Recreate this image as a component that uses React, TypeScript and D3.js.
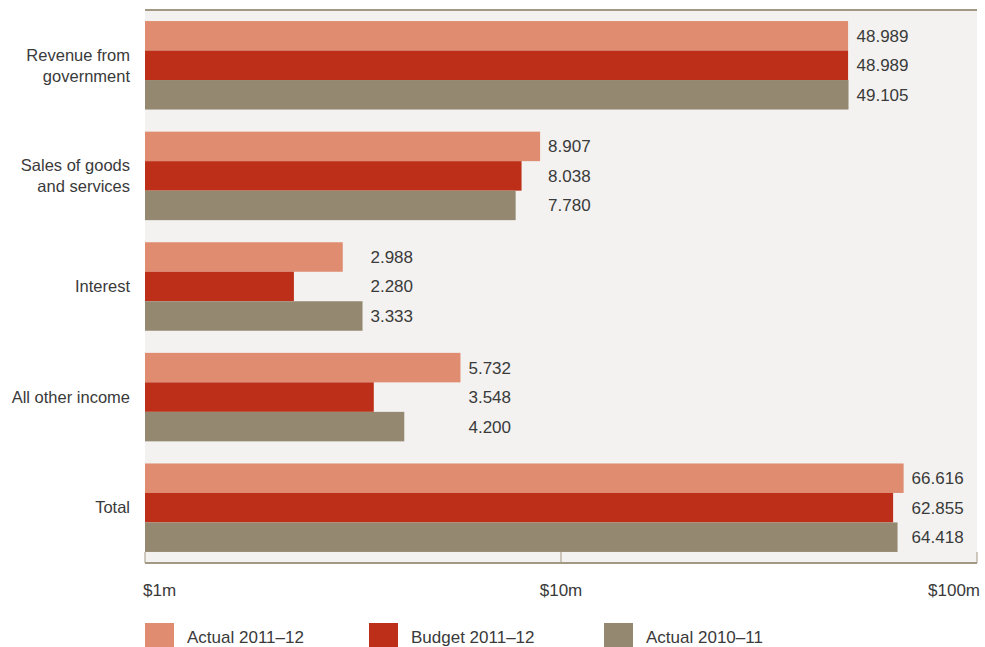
import React from "react";
import * as d3 from "d3";

const categories = ["Revenue from government", "Sales of goods and services", "Interest", "All other income", "Total"];
const categoryLines = [["Revenue from", "government"], ["Sales of goods", "and services"], ["Interest"], ["All other income"], ["Total"]];
const seriesNames = ["Actual 2011–12", "Budget 2011–12", "Actual 2010–11"];
const actual2012 = [48.989, 8.907, 2.988, 5.732, 66.616];
const budget2012 = [48.989, 8.038, 2.28, 3.548, 62.855];
const actual2011 = [49.105, 7.78, 3.333, 4.2, 64.418];
const seriesValues = [actual2012, budget2012, actual2011];
const tickValues = [1, 10, 100];
const tickLabels = ["$1m", "$10m", "$100m"];

const colors = ["#df8c70", "#bd2f19", "#948871"];
const FONT = "'Liberation Sans', Arial, Helvetica, sans-serif";

export default function App() {
  const W = 985, H = 647;
  const left = 145, right = 977, top = 10, bottom = 563;
  const x = d3.scaleLog().domain([1, 100]).range([left, right]);
  const y = d3.scaleBand<string>().domain(categories).range([top, bottom]).paddingInner(0.2).paddingOuter(0.1);
  const ySub = d3.scaleBand<string>().domain(seriesNames).range([0, y.bandwidth()]);
  const legendX = [145, 369, 604];
  const axisColor = "#a39883";
  const textColor = "#3a3a3a";

  return (
    <svg width={W} height={H} style={{ position: "absolute", left: 0, top: 0 }} fontFamily={FONT}>
      <rect x={left} y={top} width={right - left} height={bottom - top} fill="#f3f2f0" />
      <line x1={left} x2={right} y1={top} y2={top} stroke={axisColor} strokeWidth={2} />
      <line x1={left} x2={right} y1={bottom} y2={bottom} stroke={axisColor} strokeWidth={2} />
      {tickValues.map((t, i) => (
        <line key={"t" + i} x1={x(t)} x2={x(t)} y1={bottom - 11} y2={bottom} stroke={axisColor} strokeWidth={1} />
      ))}
      {tickValues.map((t, i) => (
        <text
          key={"tl" + i}
          x={i === 0 ? x(t) - 2 : i === tickValues.length - 1 ? x(t) + 3 : x(t)}
          y={590}
          dy="0.35em"
          fontSize={17}
          fill={textColor}
          textAnchor={i === 0 ? "start" : i === tickValues.length - 1 ? "end" : "middle"}
        >
          {tickLabels[i]}
        </text>
      ))}
      {categories.map((c, ci) => {
        const gy = y(c)!;
        const maxEnd = d3.max(seriesValues, (s) => x(s[ci]))!;
        return (
          <g key={c}>
            {seriesValues.map((s, si) => (
              <rect
                key={si}
                x={left}
                y={gy + ySub(seriesNames[si])!}
                width={x(s[ci]) - left}
                height={ySub.bandwidth()}
                fill={colors[si]}
              />
            ))}
            {seriesValues.map((s, si) => (
              <text
                key={"v" + si}
                x={maxEnd + 8}
                y={gy + ySub(seriesNames[si])! + ySub.bandwidth() / 2}
                dy="0.35em"
                fontSize={17}
                fill={textColor}
              >
                {s[ci].toFixed(3)}
              </text>
            ))}
            {categoryLines[ci].map((line, li) => (
              <text
                key={"c" + li}
                x={130}
                y={gy + y.bandwidth() / 2 + (li - (categoryLines[ci].length - 1) / 2) * 21}
                dy="0.35em"
                fontSize={16.5}
                fill={textColor}
                textAnchor="end"
              >
                {line}
              </text>
            ))}
          </g>
        );
      })}
      {seriesNames.map((n, i) => (
        <g key={n}>
          <rect x={legendX[i]} y={623} width={29} height={25} fill={colors[i]} />
          <text x={legendX[i] + 42} y={637} dy="0.35em" fontSize={17} fill={textColor}>
            {n}
          </text>
        </g>
      ))}
    </svg>
  );
}
